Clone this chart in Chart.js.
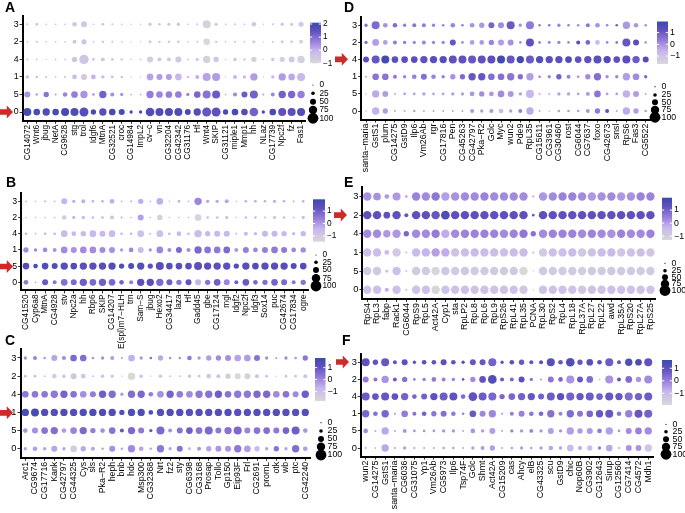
<!DOCTYPE html>
<html>
<head>
<meta charset="utf-8">
<script src="https://cdn.jsdelivr.net/npm/chart.js@4.4.1/dist/chart.umd.min.js"></script>
<style>
  body { margin: 0; background: #fff; width: 685px; height: 513px; position: relative; overflow: hidden;
         font-family: "Liberation Sans", Arial, sans-serif; }
  canvas { position: absolute; left: 0; top: 0; }
  .tag { position: absolute; font-size: 14px; line-height: 14px; font-weight: bold; color: #000; }
  .arrow { position: absolute; width: 13px; height: 13px; background: #cf2a2a;
           clip-path: polygon(0 28%, 52% 28%, 52% 0, 100% 50%, 52% 100%, 52% 72%, 0 72%); z-index: 5; }
</style>
</head>
<body>
<script>
// clusters, top to bottom
const rows = ['3', '2', '4', '1', '5', '0'];
const sizeBreaks = [0, 25, 50, 75, 100];

// A
const genesA = ['CG14072','Wnt6','jbug','NetA','CG9628','stg','trol','Idgf6','MtnA','CG32521','croc','CG14984','ImpL2','cv−c','vn','CG32204','CG42342','CG31176','Hf','Wnt4','SKIP','CG31121','miple1','Mmp1','hh','NLaz','CG17739','Npc2f','fz','Fas1'];
const pctA = [
  [8,15,5,5,5,36,50,5,15,8,5,2,2,22,15,19,22,5,8,71,19,5,8,5,36,2,8,22,19,40],
  [5,8,5,5,5,29,43,5,12,8,5,2,2,19,12,15,15,5,8,57,12,5,8,5,22,2,8,19,15,29],
  [8,5,2,5,5,43,85,15,29,15,12,2,5,50,29,29,50,8,19,64,43,2,22,12,43,2,22,43,50,64],
  [22,12,8,5,8,36,50,36,22,15,12,2,2,57,50,50,57,12,29,71,71,2,29,22,64,2,22,64,57,71],
  [50,15,43,8,36,57,64,15,64,29,22,5,5,64,57,57,57,22,57,71,71,5,29,50,71,8,29,64,64,64],
  [71,57,64,57,71,71,81,43,64,57,50,22,22,78,71,71,71,50,64,81,81,43,57,57,78,22,57,71,71,71]
];
const expA = [
  [-0.3,-0.2,-0.3,-0.3,-0.3,-0.5,-0.6,-0.3,-0.3,-0.3,-0.3,-0.3,-0.3,-0.5,-0.4,-0.4,-0.4,-0.3,-0.4,-0.8,-0.3,-0.3,-0.3,-0.3,-0.6,-0.3,-0.3,-0.5,-0.4,-0.6],
  [-0.3,-0.3,-0.3,-0.3,-0.3,-0.5,-0.5,-0.3,-0.3,-0.3,-0.3,-0.3,-0.3,-0.6,-0.4,-0.6,-0.5,-0.3,-0.4,-1.0,-0.5,-0.3,-0.4,-0.3,-0.8,-0.3,-0.4,-0.6,-0.5,-0.8],
  [-0.3,-0.3,-0.3,-0.3,-0.3,-0.5,-0.5,-0.3,-0.5,-0.4,-0.4,-0.3,-0.3,-0.7,-0.5,-0.6,-0.6,-0.3,-0.4,-0.8,-0.5,-0.3,-0.4,-0.4,-0.8,-0.3,-0.4,-0.8,-0.6,-0.8],
  [-0.1,-0.1,-0.1,-0.2,-0.1,-0.3,-0.6,0.0,-0.2,-0.2,-0.2,-0.3,-0.3,0.2,0.3,0.3,-0.1,-0.1,0.0,0.2,0.3,-0.3,-0.1,-0.1,0.3,-0.3,-0.1,0.3,0.1,-0.1],
  [0.4,0.2,0.9,0.3,0.6,0.7,0.4,0.4,1.2,0.5,0.4,0.2,0.2,0.7,0.6,0.7,0.7,0.6,1.1,0.9,1.3,0.2,0.6,1.3,1.2,0.3,0.6,1.2,1.1,0.7],
  [1.9,1.9,1.8,1.9,1.9,1.8,1.6,1.9,1.6,1.9,1.9,1.9,1.9,1.7,1.8,1.8,1.8,1.9,1.7,1.4,1.5,1.9,1.9,1.7,1.2,1.9,1.9,1.5,1.6,1.7]
];

// B
const genesB = ['CG41520','Cyp6a8','MtnA','CG4928','stv','Npc2a','hh','Rbp6','SKIP','CG14207','E(spl)m7−HLH','trn','Sam−S','jbug','Hexo2','CG34417','laza','Hf','Gadd45','gbe','CG17124','mgl','Idgf2','Npc2f','Idgf3','Sox14','puc','CG42674','CG17834','ogre'];
const pctB = [
  [5,2,8,5,50,22,29,15,15,36,5,8,43,5,57,2,15,5,64,22,22,29,2,15,15,15,22,15,8,15],
  [2,2,5,5,36,22,22,15,15,29,8,5,50,5,43,2,5,5,57,15,15,22,2,15,15,8,22,15,8,22],
  [15,5,15,15,57,36,43,57,50,57,15,15,57,8,57,15,36,15,64,43,50,50,8,29,22,50,50,43,22,43],
  [43,22,36,29,57,50,57,57,50,50,22,36,50,22,57,29,50,29,64,57,57,57,29,50,36,50,57,50,36,43],
  [57,36,57,50,64,57,64,64,64,64,43,50,64,43,71,57,57,57,71,64,64,64,43,64,57,64,64,64,50,57],
  [36,5,50,29,57,50,64,57,64,57,36,29,64,64,64,50,43,50,50,43,57,50,29,57,36,43,57,50,29,43]
];
const expB = [
  [-0.3,-0.3,-0.3,-0.3,-0.4,-0.3,-0.3,-0.3,-0.3,-0.3,-0.3,-0.3,-0.3,-0.3,-0.3,-0.3,-0.2,-0.3,0.3,-0.2,-0.2,-0.2,-0.3,-0.3,-0.2,-0.3,-0.3,-0.3,-0.3,-0.3],
  [-0.4,-0.4,-0.4,-0.4,-1.1,-0.5,-0.5,-0.5,-0.5,-0.9,-0.2,-0.4,-0.1,-0.4,-1.2,-0.4,-0.4,-0.4,-1.3,-0.6,-0.6,-0.8,-0.4,-0.5,-0.5,-0.5,-0.9,-0.5,-0.5,-0.6],
  [-0.4,-0.4,-0.4,-0.4,-0.6,-0.5,-0.5,-0.5,-0.5,-0.6,-0.4,-0.4,-0.8,-0.4,-0.7,-0.4,-0.5,-0.4,-0.6,-0.5,-0.5,-0.5,-0.4,-0.5,-0.5,-0.5,-0.5,-0.5,-0.5,-0.5],
  [0.2,0.3,0.2,0.1,0.2,0.1,0.2,0.2,0.2,0.1,0.0,0.3,-0.6,0.1,0.3,0.2,0.8,0.2,0.8,0.6,0.5,0.8,0.0,0.4,0.3,0.4,0.5,0.5,0.3,0.2],
  [1.5,1.6,1.5,1.5,1.4,1.5,1.4,1.4,1.4,1.5,1.5,1.6,1.4,1.3,1.4,1.4,1.4,1.4,1.3,1.4,1.3,1.3,1.5,1.4,1.5,1.4,1.4,1.4,1.5,1.5],
  [0.5,-0.2,1.1,0.6,0.7,0.8,1.0,0.8,1.0,0.8,0.9,0.5,1.3,1.4,0.8,1.0,0.6,1.2,-0.4,0.6,1.0,0.3,1.0,1.1,0.8,0.7,0.9,0.8,0.6,0.6]
];

// C
const genesC = ['Arc1','CG9674','CG17716','Kank','CG42797','CG44325','Cys','sls','Pka−R2','heph','bnb','hdc','Msp300','CG32368','Nrt','fz2','sty','CG6398','CG3168','Prosap','Tollo','Gp150','Eip93F','Frl','CG2691','promL','otk','wb','ptc','CG42240'];
const pctC = [
  [22,29,15,50,29,57,57,15,22,29,8,57,22,15,43,15,15,36,22,43,43,50,57,57,50,22,8,22,15,43],
  [15,15,8,36,22,50,36,8,22,22,2,64,22,2,29,8,8,22,15,36,29,43,50,50,29,15,2,15,15,29],
  [57,57,57,64,64,57,57,50,64,64,22,64,64,36,57,64,57,57,64,64,64,57,64,64,64,64,57,57,50,64],
  [64,71,64,64,64,64,64,64,64,64,43,64,64,36,64,64,64,64,64,64,64,64,64,64,64,64,64,64,64,64],
  [36,50,57,64,36,57,64,43,36,57,29,64,50,22,71,29,50,57,57,71,50,64,71,50,57,57,50,57,71,36],
  [22,36,22,50,22,57,43,29,15,50,15,64,36,15,64,22,50,22,29,43,50,50,64,57,43,22,43,22,64,36]
];
const expC = [
  [-0.1,0.1,-0.2,-0.4,0.0,0.6,0.5,-0.1,-0.1,-0.3,-0.2,-0.6,-0.2,0.5,-0.5,-0.1,-0.1,0.3,-0.2,-0.3,0.0,-0.1,-0.4,-0.3,0.4,-0.1,-0.2,0.0,-0.2,0.3],
  [-0.8,-0.8,-0.8,-1.5,-0.8,-1.2,-1.2,-0.8,-0.9,-1.2,-0.8,-2.0,-0.9,-0.8,-1.6,-0.9,-0.9,-1.0,-1.0,-1.3,-1.1,-1.4,-1.8,-1.6,-1.0,-0.9,-0.8,-1.0,-1.0,-1.1],
  [0.3,0.3,0.3,0.3,0.7,0.4,-0.1,0.2,0.8,0.5,-0.3,0.5,0.6,0.2,-0.1,0.7,0.2,0.0,0.3,0.4,0.8,0.4,0.3,0.3,0.6,0.6,0.0,0.4,0.0,0.8],
  [1.5,1.6,1.4,1.3,1.4,1.3,1.4,1.5,1.4,1.4,1.3,1.4,1.4,1.3,1.2,1.3,1.3,1.2,1.3,1.2,1.3,1.4,1.2,1.2,1.3,1.3,1.3,1.3,1.2,1.3],
  [-0.2,-0.1,0.4,0.5,-0.3,0.1,0.6,0.2,-0.1,0.4,1.0,0.6,0.3,1.0,0.6,-0.1,0.4,0.8,0.4,0.6,0.3,0.4,0.6,0.1,0.4,0.5,0.3,0.7,0.8,-0.2],
  [-0.4,-0.3,-0.4,-0.4,-0.4,-1.4,-0.5,-0.4,-0.4,-0.1,-0.4,0.0,-0.4,-0.4,0.3,-0.4,0.4,-1.0,-0.2,-0.4,-0.2,-0.2,0.3,-0.3,-0.8,-0.4,0.4,-0.4,0.5,-0.3]
];

// D
const genesD = ['santa−maria','GstS1','plum','CG14275','GstD9','Ilp6','Vm26Ab','rgr','CG17816','Pen','CG45263','CG42797','Pka−R2','Gclc','Myc','wun2','Pde9','RpL35','CG15611','CG3961','CG30460','rost','CG6044','CG7637','foxo','CG42673','snsl','RpS6','Fas3','CG5522'];
const pctD = [
  [22,71,36,36,22,29,29,22,15,36,15,36,43,50,50,71,22,71,15,15,22,15,15,29,36,15,15,64,36,15],
  [22,57,36,29,22,22,29,22,22,50,15,36,36,43,50,50,15,71,15,15,22,15,29,36,36,15,15,71,50,15],
  [50,71,71,57,57,57,64,64,64,71,71,71,71,71,71,71,64,71,64,64,64,57,57,64,71,64,57,71,64,50],
  [5,57,57,29,22,36,50,36,22,43,43,64,64,57,57,64,43,64,15,22,43,29,15,43,64,22,22,64,57,22],
  [2,64,50,8,15,15,22,15,15,22,22,36,43,36,57,50,22,71,8,8,22,22,15,29,57,15,15,64,50,8],
  [2,64,43,8,8,15,8,8,8,8,8,29,22,29,36,22,29,64,8,2,15,15,15,29,43,29,8,64,43,15]
];
const expD = [
  [0.6,0.7,0.0,0.6,0.4,0.5,0.4,0.3,0.2,0.2,0.3,0.0,-0.1,0.8,0.1,1.0,0.0,0.4,0.4,0.4,0.2,0.3,0.1,0.5,0.0,0.2,0.9,-0.1,-0.1,0.0],
  [0.6,-0.2,-0.2,0.4,0.4,0.2,0.2,0.2,0.2,1.1,0.2,-0.2,-0.1,0.2,-0.2,0.0,0.1,1.2,0.4,0.5,0.2,0.2,1.4,0.8,-0.7,0.2,0.6,1.1,1.3,-0.1],
  [1.3,1.1,1.8,1.3,1.3,1.3,1.2,1.3,1.4,1.2,1.2,1.1,1.2,1.3,1.8,1.1,1.8,1.0,1.4,1.3,1.3,1.6,1.2,1.2,1.3,1.5,1.2,1.3,1.0,1.5],
  [0.2,0.5,0.5,0.4,0.2,0.3,0.6,0.2,0.3,0.0,0.7,1.1,1.1,0.6,0.6,0.5,0.6,-0.2,0.2,0.2,0.9,0.3,0.0,0.1,0.6,0.1,0.2,-0.2,0.1,0.8],
  [-0.3,-0.4,-0.2,-0.3,-0.2,-0.2,-0.2,-0.2,-0.2,-0.2,-0.2,-0.1,0.1,-0.1,0.1,-0.1,-0.2,-0.6,-0.3,-0.3,-0.2,-0.2,-0.2,-0.1,0.5,-0.2,-0.2,-0.5,-0.2,-0.3],
  [-0.3,-0.5,-0.2,-0.3,-0.3,-0.3,-0.3,-0.3,-0.3,-0.3,-0.3,-0.1,-0.2,-0.1,-0.7,-0.2,0.3,-0.4,-0.3,-0.3,-0.2,-0.2,-0.2,-0.1,0.4,1.2,-0.3,-0.4,-0.2,-0.2]
];

// E
const genesE = ['RpS4','RpL3','fabp','Rack1','CG6044','RpS9','RpL5','Act42A','Cyp1','sta','RpLP2','RpL8','RpL6','RpL9','RpS26','RpL41','RpL35','PCNA','RpL30','RpS2','RpL4','RpL18','RpL37A','RpL27','RpL22','awd','RpL35A','RpS20','RpL27A','RpS25'];
const pctE = [
  [75,68,36,71,15,75,75,75,75,75,75,75,75,75,75,75,75,8,75,75,75,75,75,75,75,75,75,75,75,75],
  [75,75,57,75,29,75,75,75,78,75,75,75,75,75,75,75,75,15,75,75,75,75,75,75,75,75,75,75,75,75],
  [75,75,64,75,43,75,75,75,75,75,75,75,75,75,75,75,75,43,75,75,75,75,75,75,75,75,75,75,75,75],
  [75,75,36,75,8,75,75,75,75,75,75,75,75,75,75,75,75,8,75,75,75,75,75,75,75,75,75,75,75,75],
  [75,75,22,75,8,75,75,75,75,75,75,75,75,75,75,75,75,2,75,75,75,75,75,75,75,75,75,75,75,75],
  [75,75,29,75,8,75,75,75,75,75,75,75,75,75,75,75,75,2,75,75,75,75,75,75,75,75,75,75,75,75]
];
const expE = [
  [0.2,0.2,0.1,0.1,0.0,0.4,0.3,0.6,0.0,0.2,0.3,0.3,0.4,0.3,0.3,0.3,0.3,0.0,0.1,0.3,0.4,0.4,0.3,0.1,0.2,0.3,0.1,0.2,0.4,0.4],
  [1.3,1.3,1.3,1.3,1.2,1.3,1.3,1.2,1.6,1.3,1.3,1.3,1.3,1.3,1.3,1.3,1.3,1.2,1.3,1.3,1.3,1.3,1.3,1.3,1.3,1.3,1.3,1.3,1.3,1.3],
  [0.3,0.3,0.1,0.1,0.9,0.3,0.3,0.5,-0.2,0.3,0.4,0.4,0.4,0.4,0.3,0.4,0.6,0.7,0.3,0.4,0.4,0.4,0.3,0.4,0.3,0.2,0.4,0.3,0.3,0.4],
  [-0.6,-0.5,-0.4,-0.9,-0.5,-0.5,-0.3,0.0,-0.2,-0.7,-0.6,-0.5,-0.5,-0.5,-0.6,-0.5,-0.5,-0.2,-0.9,-0.6,-0.6,-0.5,-0.8,-0.7,-0.5,-0.4,-0.8,-0.7,-0.6,-0.8],
  [-0.9,-0.8,-0.6,-0.6,-0.5,-0.9,-0.9,-1.2,-0.8,-0.9,-0.8,-0.9,-0.9,-0.9,-0.9,-0.9,-1.3,-0.6,-0.9,-0.9,-0.9,-0.9,-1.0,-0.9,-0.9,-0.8,-0.9,-0.9,-0.9,-0.9],
  [-0.7,-0.6,-0.2,-0.6,-0.4,-0.7,-0.6,-1.2,-0.7,-0.7,-0.6,-0.7,-0.7,-0.7,-0.7,-0.7,-0.8,-0.6,-0.7,-0.7,-0.7,-0.7,-0.8,-0.7,-0.7,-0.6,-0.7,-0.7,-0.7,-0.7]
];

// F
const genesF = ['wun2','CG14275','GstS1','santa−maria','CG6036','CG31075','Yp1','Vm26Ab','CG5973','Ilp6','Tsp74F','Gclc','Shmt','Act42A','CG15209','cas','Ahcy','elB','CG43325','scu','GstD9','chic','Nop60B','CG3902','CG12643','Sirup','CG12560','CG7414','CG4572','Mdh1'];
const pctF = [
  [71,43,71,29,50,22,36,36,50,36,22,50,50,71,22,36,43,29,29,71,36,78,43,57,36,71,29,64,57,71],
  [50,29,64,29,43,15,22,36,29,22,15,43,57,78,29,29,50,22,8,50,36,71,50,57,8,71,29,57,43,71],
  [71,57,71,57,64,36,50,64,71,71,36,78,71,71,43,57,64,64,50,71,64,71,64,71,57,71,64,71,64,71],
  [64,36,64,8,57,29,36,43,50,36,15,57,50,64,8,29,50,36,36,64,29,64,50,57,64,71,36,64,71,71],
  [36,8,64,8,29,15,15,15,22,22,8,36,22,50,8,22,22,29,22,50,22,64,43,50,36,64,15,50,57,64],
  [15,5,64,8,22,8,8,8,15,15,8,22,29,43,8,15,22,15,22,36,22,57,29,43,22,57,8,50,50,64]
];
const expF = [
  [0.9,0.9,0.8,0.9,1.0,1.1,1.0,0.9,1.0,0.9,1.1,0.8,0.8,0.6,1.0,1.0,0.8,0.9,1.1,1.1,0.8,1.2,0.8,1.1,1.1,0.7,0.9,1.2,1.3,0.9],
  [0.1,0.2,-0.3,0.7,0.3,0.1,0.1,0.1,0.0,0.0,0.8,-0.2,0.9,1.2,0.8,0.5,1.0,0.2,-0.3,0.2,0.5,-0.3,0.8,0.4,-1.2,-0.3,0.8,0.4,-0.3,-0.2],
  [0.7,0.8,0.8,0.9,0.6,0.5,0.6,0.9,0.7,0.9,0.4,0.9,0.7,0.5,0.5,0.5,0.6,0.8,0.6,0.7,1.0,0.6,0.8,0.7,0.6,0.8,0.8,0.4,0.6,0.7],
  [0.5,0.3,0.5,-0.2,0.1,0.3,0.6,0.2,0.3,0.1,0.0,0.8,-0.1,-0.1,-0.2,0.1,0.0,0.2,0.5,0.3,0.0,0.4,0.2,0.5,0.8,0.8,0.2,0.0,0.8,0.6],
  [-0.2,-0.4,-0.6,-0.4,-0.3,-0.3,-0.3,-0.3,-0.3,-0.3,-0.4,-0.3,-0.4,-0.5,-0.4,0.0,-0.3,-0.1,-0.3,-0.5,-0.3,-0.5,-0.4,-0.4,0.1,-0.5,-0.3,-0.2,0.0,-0.2],
  [-1.2,-0.5,-0.6,-0.5,-0.5,-0.5,-0.5,-0.5,-0.5,-0.5,-0.5,-0.5,-0.4,-0.5,-0.5,-0.5,-0.5,-0.5,-0.4,-0.6,-0.5,-1.0,-0.6,-1.1,0.1,-0.6,-0.5,-0.3,-0.3,-1.3]
];

// layout of the six panels (pixel boxes)
const panels = [
  { tag: 'A', genes: genesA, pct: pctA, exp: expA, font: 8.3, area: [22.6, 305.8, 15.5, 120.8],
    bar: { x: 310, w: 11, top: 22.7, bottom: 63.3, min: -1.0, max: 2.1, ticks: [2, 1, 0, -1] },
    size: { x: 313, y: [85, 93.3, 101.7, 110, 118.3] }, tagXY: [5, 0], arrow: [0, 112] },
  { tag: 'B', genes: genesB, pct: pctB, exp: expB, font: 8.3, area: [21.2, 308, 193.2, 290.4],
    bar: { x: 313, w: 12, top: 199.3, bottom: 241.7, min: -1.46, max: 1.95, ticks: [1, 0, -1] },
    size: { x: 316, y: [255, 262.3, 270, 278.3, 286] }, tagXY: [6, 175], arrow: [0, 266.5] },
  { tag: 'C', genes: genesC, pct: pctC, exp: expC, font: 8.8, area: [20.5, 310.1, 348.9, 457.8],
    bar: { x: 315, w: 10.5, top: 358, bottom: 401, min: -1.78, max: 1.8, ticks: [1, 0, -1] },
    size: { x: 321, y: [422.7, 431, 439, 446.7, 455] }, tagXY: [5, 333], arrow: [0, 412.8] },
  { tag: 'D', genes: genesD, pct: pctD, exp: expD, font: 8.8, area: [361.2, 650.5, 16.7, 119.6],
    bar: { x: 657, w: 11, top: 21.5, bottom: 64, min: -1.68, max: 1.95, ticks: [1, 0, -1] },
    size: { x: 655, y: [86.7, 95, 102.3, 110, 117.3] }, tagXY: [344, 0], arrow: [335, 59.3] },
  { tag: 'E', genes: genesE, pct: pctE, exp: expE, font: 8.8, area: [362.4, 655.3, 187.2, 299],
    bar: { x: 662, w: 10, top: 197.7, bottom: 240, min: -1.3, max: 1.95, ticks: [1, 0, -1] },
    size: { x: 665, y: [263.3, 270.7, 277.3, 284, 290.5] }, tagXY: [344, 175], arrow: [334, 215.1] },
  { tag: 'F', genes: genesF, pct: pctF, exp: expF, font: 8.8, area: [360.8, 653.1, 353.7, 456.6],
    bar: { x: 662, w: 10, top: 360, bottom: 405, min: -1.94, max: 1.66, ticks: [1, 0, -1] },
    size: { x: 666, y: [424.3, 431.7, 439.3, 447, 454.3] }, tagXY: [342, 333], arrow: [336, 362] }
];

// canvases are taller than the page so rotated gene names are never clipped by the axis box
const W = 685, CH = 600, YW = 20, XH = 80;
const FONT = '"Liberation Sans", Arial, sans-serif';
Chart.defaults.font.family = FONT;

// lightgrey -> purple -> blue
const stops = [
  [0.00, [216, 216, 216]],
  [0.30, [200, 182, 238]],
  [0.55, [150, 125, 218]],
  [0.80, [95, 80, 190]],
  [1.00, [60, 75, 170]]
];
function colorAt(t) {
  for (let i = 1; i < stops.length; i++) {
    if (t <= stops[i][0]) {
      const [t0, c0] = stops[i - 1], [t1, c1] = stops[i];
      const f = (t - t0) / (t1 - t0);
      const c = c0.map((v, k) => Math.round(v + (c1[k] - v) * f));
      return `rgb(${c[0]},${c[1]},${c[2]})`;
    }
  }
  return `rgb(${stops[stops.length - 1][1].join(',')})`;
}
function expColor(z, bar) {
  const t = Math.min(1, Math.max(0, (z - bar.min) / (bar.max - bar.min)));
  return colorAt(t);
}
function radius(p) { return 0.6 + p * 0.048; }
function fmt(v) { return v < 0 ? '−' + Math.abs(v) : String(v); }

// colour bar + size legend
const legendPlugin = {
  id: 'dotLegend',
  afterDraw(chart, args, opts) {
    const p = opts.panel, b = p.bar, ctx = chart.ctx;
    ctx.save();
    const g = ctx.createLinearGradient(0, b.bottom, 0, b.top);
    stops.forEach(([t, c]) => g.addColorStop(t, `rgb(${c.join(',')})`));
    ctx.fillStyle = g;
    ctx.fillRect(b.x, b.top, b.w, b.bottom - b.top);
    ctx.font = `${p.font}px ${FONT}`;
    ctx.textBaseline = 'middle';
    ctx.textAlign = 'left';
    b.ticks.forEach(v => {
      const y = b.bottom - (v - b.min) / (b.max - b.min) * (b.bottom - b.top);
      ctx.strokeStyle = '#fff';
      ctx.lineWidth = 1;
      ctx.beginPath();
      ctx.moveTo(b.x, y); ctx.lineTo(b.x + 2.2, y);
      ctx.moveTo(b.x + b.w - 2.2, y); ctx.lineTo(b.x + b.w, y);
      ctx.stroke();
      ctx.fillStyle = '#000';
      ctx.fillText(fmt(v), b.x + b.w + 2, y);
    });
    sizeBreaks.forEach((lv, i) => {
      const y = p.size.y[i];
      ctx.fillStyle = '#000';
      ctx.beginPath();
      ctx.arc(p.size.x, y, radius(lv), 0, Math.PI * 2);
      ctx.fill();
      ctx.fillText(String(lv), p.size.x + 6.5, y);
    });
    ctx.restore();
  }
};

panels.forEach(p => {
  const cv = document.createElement('canvas');
  cv.width = W; cv.height = CH;
  document.body.appendChild(cv);

  const pts = [];
  p.pct.forEach((row, ri) => row.forEach((v, gi) => {
    pts.push({ x: gi, y: ri, r: radius(v), z: p.exp[ri][gi] });
  }));

  const [L, R, T, B] = p.area;
  new Chart(cv, {
    type: 'bubble',
    data: {
      datasets: [{
        data: pts,
        backgroundColor: c => expColor(c.raw.z, p.bar),
        borderWidth: 0,
        hoverBorderWidth: 0,
        hoverRadius: 0,
        clip: false
      }]
    },
    options: {
      responsive: false,
      animation: false,
      devicePixelRatio: 1,
      events: [],
      layout: { padding: { left: L - YW, right: W - R, top: T, bottom: CH - B - XH } },
      plugins: { legend: { display: false }, tooltip: { enabled: false }, dotLegend: { panel: p } },
      scales: {
        x: {
          type: 'linear', min: -0.5, max: 29.5,
          afterBuildTicks: s => { s.ticks = p.genes.map((g, i) => ({ value: i })); },
          afterFit: s => { s.height = XH; },
          ticks: { autoSkip: false, minRotation: 90, maxRotation: 90, padding: 1, color: '#000',
                   font: { size: p.font }, callback: v => p.genes[v] },
          grid: { drawOnChartArea: false, drawTicks: true, tickLength: 3, color: '#333' },
          border: { display: true, color: '#000', width: 2 }
        },
        y: {
          type: 'linear', min: -0.5, max: 5.5, reverse: true,
          afterBuildTicks: s => { s.ticks = rows.map((r, i) => ({ value: i })); },
          afterFit: s => { s.width = YW; },
          ticks: { padding: 1, color: '#000', font: { size: p.font + 0.5 }, callback: v => rows[v] },
          grid: { drawOnChartArea: false, drawTicks: true, tickLength: 3, color: '#333' },
          border: { display: true, color: '#000', width: 2 }
        }
      }
    },
    plugins: [legendPlugin]
  });

  const tag = document.createElement('div');
  tag.className = 'tag';
  tag.textContent = p.tag;
  tag.style.left = p.tagXY[0] + 'px';
  tag.style.top = p.tagXY[1] + 'px';
  document.body.appendChild(tag);

  const ar = document.createElement('div');
  ar.className = 'arrow';
  ar.style.left = p.arrow[0] + 'px';
  ar.style.top = (p.arrow[1] - 6.5) + 'px';
  document.body.appendChild(ar);
});
</script>
</body>
</html>
